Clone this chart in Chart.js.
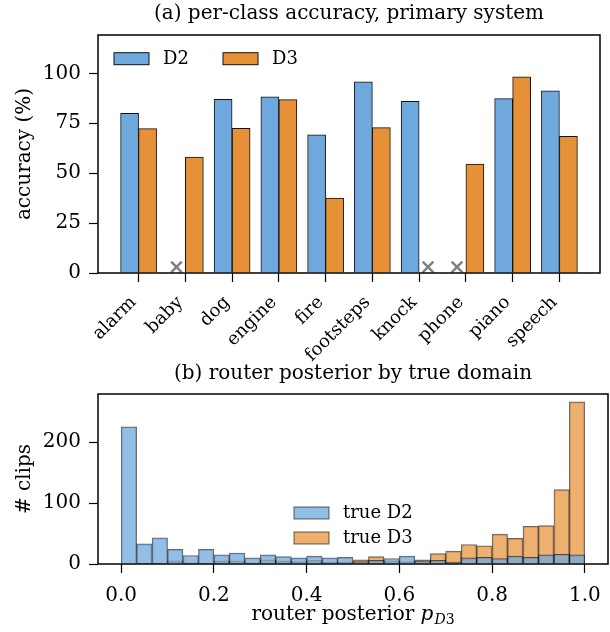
<!DOCTYPE html>
<html>
<head>
<meta charset="utf-8">
<script src="https://cdn.jsdelivr.net/npm/chart.js@4.4.1/dist/chart.umd.min.js"></script>
<style>
    html, body { margin: 0; padding: 0; background: #fff; }
    #cajaA { position: absolute; left: 0; top: 0; z-index: 2; }
    #cajaB { position: absolute; left: 0; top: 345px; z-index: 1; }
</style>
</head>
<body>
<div id="cajaA"><canvas id="graficoA" width="610" height="365"></canvas></div>
<div id="cajaB"><canvas id="graficoB" width="610" height="287"></canvas></div>
<script>
// ==============================
// Datos
// ==============================
const clases = ["alarm", "baby", "dog", "engine", "fire", "footsteps", "knock", "phone", "piano", "speech"];
const accD2 = [80, null, 87, 88.2, 69.2, 95.7, 86, null, 87.3, 91.2];
const accD3 = [72.3, 58, 72.5, 86.8, 37.5, 72.8, null, 54.5, 98.3, 68.5];
const marcaFaltante = 3;           // altura de la "x" gris donde no hay barra
const ticksAccuracy = [0, 25, 50, 75, 100];

const anchoBin = 1 / 30;
const histD2 = [225, 33, 43, 24, 14, 24, 15, 18, 10, 15, 12, 10, 13, 10, 11, 4, 6, 9, 13, 5, 6, 3, 10, 11, 9, 13, 11, 15, 16, 15];
const histD3 = [0, 1, 1, 5, 2, 1, 5, 5, 2, 7, 5, 4, 6, 3, 3, 7, 12, 5, 4, 7, 17, 21, 32, 30, 49, 42, 62, 63, 122, 266];
const ticksPosterior = [0, 0.2, 0.4, 0.6, 0.8, 1.0];
const ticksClips = [0, 100, 200];

const azul = "#6fa8dc";
const naranja = "#e69138";
const azulH = "rgba(111,168,220,0.75)";
const naranjaH = "rgba(230,145,56,0.72)";
const bordeH = "rgba(0,0,0,0.6)";

Chart.defaults.font.family = "'DejaVu Serif', serif";
Chart.defaults.font.size = 20;
Chart.defaults.color = "#000";

// marco completo del área de trazado
const marco = {
    id: "marco",
    afterDraw(chart) {
        const a = chart.chartArea, ctx = chart.ctx;
        ctx.save();
        ctx.strokeStyle = "#000";
        ctx.lineWidth = 1.5;
        ctx.strokeRect(a.left, a.top, a.right - a.left, a.bottom - a.top);
        ctx.restore();
    }
};

// leyenda dibujada dentro del área
const leyenda = {
    id: "leyenda",
    afterDraw(chart, args, opts) {
        const a = chart.chartArea, ctx = chart.ctx;
        ctx.save();
        ctx.font = "18px 'DejaVu Serif', serif";
        ctx.textBaseline = "middle";
        opts.items.forEach((it, i) => {
            const ds = chart.data.datasets[it.ds];
            const x = a.left + opts.x + i * opts.dx;
            const y = a.top + opts.y + i * opts.dy;
            ctx.fillStyle = ds.backgroundColor;
            ctx.fillRect(x, y, 35, 12);
            ctx.strokeStyle = ds.borderColor;
            ctx.lineWidth = 1;
            ctx.strokeRect(x, y, 35, 12);
            ctx.fillStyle = "#000";
            ctx.fillText(ds.label, x + 49, y + 6.5);
        });
        ctx.restore();
    }
};

// título del eje x con subíndice
const tituloX = {
    id: "tituloX",
    afterDraw(chart, args, opts) {
        if (!opts.texto) return;
        const a = chart.chartArea, ctx = chart.ctx;
        ctx.save();
        ctx.textBaseline = "alphabetic";
        ctx.fillStyle = "#000";
        const f1 = "20px 'DejaVu Serif', serif";
        const f2 = "italic 20px 'DejaVu Serif', serif";
        const f3 = "italic 14px 'DejaVu Serif', serif";
        const f4 = "14px 'DejaVu Serif', serif";
        ctx.font = f1; const w1 = ctx.measureText(opts.texto).width;
        ctx.font = f2; const w2 = ctx.measureText("p").width;
        ctx.font = f3; const w3 = ctx.measureText("D").width;
        ctx.font = f4; const w4 = ctx.measureText("3").width;
        let x = (a.left + a.right) / 2 - (w1 + w2 + w3 + w4 + 1) / 2;
        const y = opts.y;
        ctx.font = f1; ctx.fillText(opts.texto, x, y); x += w1;
        ctx.font = f2; ctx.fillText("p", x, y); x += w2 + 1;
        ctx.font = f3; ctx.fillText("D", x, y + 4); x += w3;
        ctx.font = f4; ctx.fillText("3", x, y + 4);
        ctx.restore();
    }
};

const rejilla = { drawOnChartArea: false, color: "#000", tickLength: 9, tickWidth: 1.2, offset: false };

// ==============================
// Gráfico A: precisión por clase
// ==============================
const faltantes = [];
accD2.forEach((v, i) => { if (v === null) faltantes.push({ x: i - 0.19, y: marcaFaltante }); });
accD3.forEach((v, i) => { if (v === null) faltantes.push({ x: i + 0.19, y: marcaFaltante }); });

new Chart(document.getElementById("graficoA"), {
    type: "bar",
    data: {
        datasets: [
            { label: "D2", data: accD2.map((v, i) => ({ x: i, y: v })), backgroundColor: azul, borderColor: "#111", borderWidth: 1, barThickness: 18 },
            { label: "D3", data: accD3.map((v, i) => ({ x: i, y: v })), backgroundColor: naranja, borderColor: "#111", borderWidth: 1, barThickness: 18 },
            { type: "scatter", label: "faltante", data: faltantes, pointStyle: "crossRot", radius: 7.5, borderColor: "#808080", borderWidth: 2.5, backgroundColor: "#808080" }
        ]
    },
    options: {
        responsive: false,
        animation: false,
        layout: { padding: { left: 0, right: 2, top: 0, bottom: 0 } },
        plugins: {
            legend: { display: false },
            tooltip: { enabled: false },
            title: { display: true, fullSize: false, text: "(a) per-class accuracy, primary system", font: { size: 20, weight: "normal" }, color: "#000", padding: { top: 2, bottom: 9 } },
            leyenda: { items: [{ ds: 0 }, { ds: 1 }], x: 16, y: 17.7, dx: 109, dy: 0 }
        },
        scales: {
            x: {
                type: "linear", min: -0.868, max: 9.868, offset: false,
                grid: rejilla, border: { display: false },
                ticks: { autoSkip: false, minRotation: 45, maxRotation: 45, padding: 10, labelOffset: -5, font: { size: 18 }, callback: v => clases[v] },
                afterBuildTicks: s => { s.ticks = clases.map((c, i) => ({ value: i })); },
                afterFit: s => { s.height = 92; s.paddingLeft = 0; s.paddingRight = 0; }
            },
            y: {
                min: 0, max: 119.2,
                grid: rejilla, border: { display: false },
                ticks: { padding: 8 },
                afterBuildTicks: s => { s.ticks = ticksAccuracy.map(v => ({ value: v })); },
                afterFit: s => { s.width = 98; s.paddingTop = 0; s.paddingBottom = 0; },
                title: { display: true, text: "accuracy (%)", padding: { top: 13 }, font: { size: 20 } }
            }
        }
    },
    plugins: [marco, leyenda]
});

// ==============================
// Gráfico B: posterior del router
// ==============================
const centros = histD2.map((c, k) => (k + 0.5) * anchoBin);

new Chart(document.getElementById("graficoB"), {
    type: "bar",
    data: {
        datasets: [
            { label: "true D2", data: histD2.map((c, k) => ({ x: centros[k], y: c })), backgroundColor: azulH, borderColor: bordeH, borderWidth: 1 },
            { label: "true D3", data: histD3.map((c, k) => ({ x: centros[k], y: c })), backgroundColor: naranjaH, borderColor: bordeH, borderWidth: 1 }
        ]
    },
    options: {
        responsive: false,
        animation: false,
        grouped: false,
        barPercentage: 1,
        categoryPercentage: 1,
        layout: { padding: { left: 0, right: 2, top: 0, bottom: 0 } },
        plugins: {
            legend: { display: false },
            tooltip: { enabled: false },
            title: { display: true, fullSize: false, text: "(b) router posterior by true domain", font: { size: 20, weight: "normal" }, color: "#000", padding: { top: 17, bottom: 8 } },
            leyenda: { items: [{ ds: 0 }, { ds: 1 }], x: 196, y: 113, dx: 0, dy: 25 },
            tituloX: { texto: "router posterior ", y: 275 }
        },
        scales: {
            x: {
                type: "linear", min: -0.05, max: 1.05, offset: false,
                grid: rejilla, border: { display: false },
                ticks: { padding: 11, callback: v => v.toFixed(1) },
                afterBuildTicks: s => { s.ticks = ticksPosterior.map(v => ({ value: v })); },
                afterFit: s => { s.height = 68; s.paddingLeft = 0; s.paddingRight = 0; }
            },
            y: {
                min: 0, max: 279,
                grid: rejilla, border: { display: false },
                ticks: { padding: 8 },
                afterBuildTicks: s => { s.ticks = ticksClips.map(v => ({ value: v })); },
                afterFit: s => { s.width = 98; s.paddingTop = 0; s.paddingBottom = 0; },
                title: { display: true, text: "# clips", padding: { top: 13 }, font: { size: 20 } }
            }
        }
    },
    plugins: [marco, leyenda, tituloX]
});
</script>
</body>
</html>
